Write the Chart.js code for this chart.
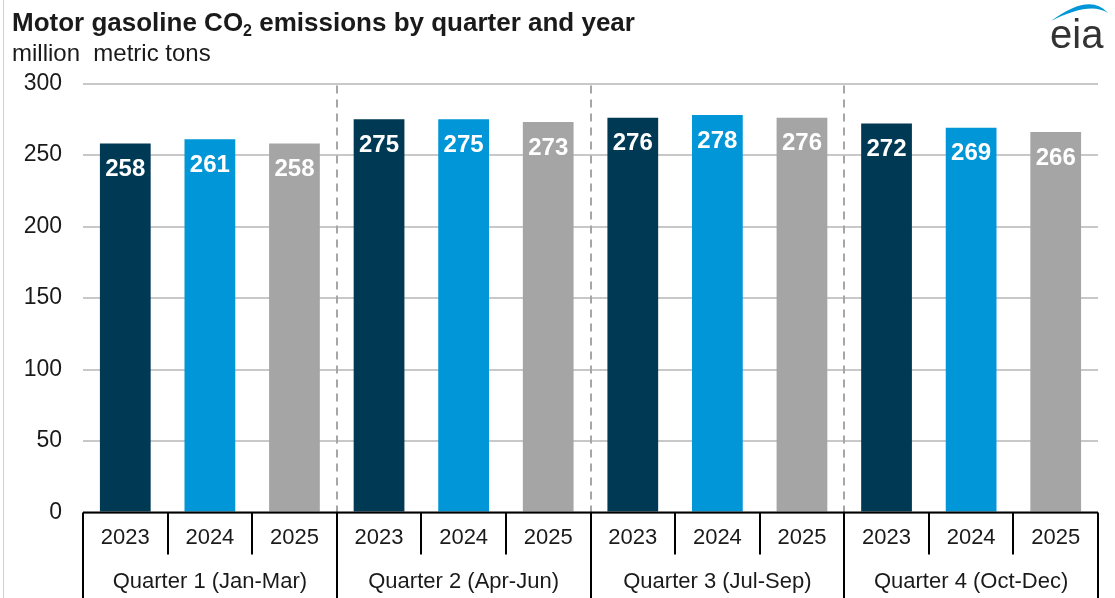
<!DOCTYPE html>
<html>
<head>
<meta charset="utf-8">
<title>Motor gasoline CO2 emissions by quarter and year</title>
<script src="https://cdn.jsdelivr.net/npm/chart.js@4"></script>
<style>
  html, body { margin: 0; padding: 0; background: #ffffff; }
  #wrap { width: 1115px; height: 598px; }
</style>
</head>
<body>
<div id="wrap"><canvas id="chart" width="1115" height="598"></canvas></div>
<script>
// Quarterly motor gasoline CO2 emissions, million metric tons
const quarters = ['Quarter 1 (Jan-Mar)', 'Quarter 2 (Apr-Jun)', 'Quarter 3 (Jul-Sep)', 'Quarter 4 (Oct-Dec)'];
const years = ['2023', '2024', '2025'];
const emissions = [258, 261, 258, 275, 275, 273, 276, 278, 276, 272, 269, 266];
const yearColors = ['#003953', '#0096d7', '#a5a5a5'];
const yTicks = [0, 50, 100, 150, 200, 250, 300];

const FONT = '"Liberation Sans", Arial, Helvetica, sans-serif';

// one category per quarter/year pair
const xLabels = [];
const barColors = [];
quarters.forEach(() => {
  years.forEach((y, i) => {
    xLabels.push(y);
    barColors.push(yearColors[i]);
  });
});

// title, subtitle, logo, page frame
const headerPlugin = {
  id: 'header',
  beforeDraw(chart) {
    const ctx = chart.ctx;
    ctx.save();
    ctx.fillStyle = '#ffffff';
    ctx.fillRect(0, 0, chart.width, chart.height);
    ctx.strokeStyle = '#d0d0d0';
    ctx.lineWidth = 1;
    ctx.beginPath();
    ctx.moveTo(3.5, 0);
    ctx.lineTo(3.5, chart.height);
    ctx.stroke();

    ctx.fillStyle = '#1a1a1a';
    ctx.textBaseline = 'alphabetic';
    ctx.textAlign = 'left';
    let x = 12;
    const base = 31;
    ctx.font = 'bold 26px ' + FONT;
    const t1 = 'Motor gasoline CO';
    ctx.fillText(t1, x, base);
    x += ctx.measureText(t1).width;
    ctx.font = 'bold 16px ' + FONT;
    ctx.fillText('2', x, base + 5);
    x += ctx.measureText('2').width;
    ctx.font = 'bold 26px ' + FONT;
    ctx.fillText(' emissions by quarter and year', x, base);

    ctx.font = '24px ' + FONT;
    ctx.fillText('million  metric tons', 12, 61);

    // eia mark
    ctx.fillStyle = '#0096d7';
    ctx.beginPath();
    ctx.moveTo(1051, 21);
    ctx.quadraticCurveTo(1090, -8, 1108, 13);
    ctx.quadraticCurveTo(1090, 1, 1051, 21);
    ctx.fill();
    ctx.fillStyle = '#333333';
    ctx.font = '40px ' + FONT;
    ctx.fillText('eia', 1050, 48);
    ctx.restore();
  }
};

// quarter separators (dashed), two-level category frame, quarter names, value labels
const framePlugin = {
  id: 'frame',
  afterDatasetsDraw(chart) {
    const ctx = chart.ctx;
    const area = chart.chartArea;
    const xs = chart.scales.x;
    const n = xLabels.length;
    const slot = (xs.getPixelForValue(1) - xs.getPixelForValue(0));
    const edge = i => xs.getPixelForValue(i) - slot / 2;

    ctx.save();
    // value labels inside the bars
    const meta = chart.getDatasetMeta(0);
    ctx.font = 'bold 24px ' + FONT;
    ctx.fillStyle = '#ffffff';
    ctx.textAlign = 'center';
    ctx.textBaseline = 'middle';
    meta.data.forEach((bar, i) => {
      ctx.fillText(String(emissions[i]), bar.x, bar.y + 26);
    });

    // dashed quarter separators in the plot
    ctx.strokeStyle = '#a6a6a6';
    ctx.lineWidth = 2;
    ctx.setLineDash([8, 6]);
    for (let q = 1; q < quarters.length; q++) {
      const px = Math.round(edge(q * years.length));
      ctx.beginPath();
      ctx.moveTo(px, area.top + 2);
      ctx.lineTo(px, area.bottom);
      ctx.stroke();
    }
    ctx.setLineDash([]);

    // category frame below the plot
    ctx.strokeStyle = '#000000';
    ctx.lineWidth = 2;
    ctx.beginPath();
    ctx.moveTo(area.left, area.bottom);
    ctx.lineTo(area.right, area.bottom);
    for (let i = 0; i <= n; i++) {
      const px = Math.round(edge(i));
      const full = i % years.length === 0;
      ctx.moveTo(px, area.bottom);
      ctx.lineTo(px, full ? chart.height : area.bottom + 42);
    }
    ctx.stroke();

    ctx.fillStyle = '#1a1a1a';
    ctx.font = '22px ' + FONT;
    quarters.forEach((q, k) => {
      const cx = (edge(k * years.length) + edge((k + 1) * years.length)) / 2;
      ctx.fillText(q, cx, area.bottom + 69);
    });
    ctx.restore();
  }
};

new Chart(document.getElementById('chart'), {
  type: 'bar',
  data: {
    labels: xLabels,
    datasets: [{
      data: emissions,
      backgroundColor: barColors,
      borderWidth: 0,
      barPercentage: 0.6,
      categoryPercentage: 1.0
    }]
  },
  options: {
    responsive: false,
    animation: false,
    devicePixelRatio: 1,
    layout: { padding: { left: 0, right: 17, top: 83.5, bottom: 0 } },
    plugins: {
      legend: { display: false },
      tooltip: { enabled: false },
      title: { display: false }
    },
    scales: {
      x: {
        type: 'category',
        grid: { display: false, drawTicks: false },
        border: { display: false },
        ticks: {
          color: '#1a1a1a',
          font: { family: FONT, size: 22 },
          padding: 12,
          maxRotation: 0,
          autoSkip: false
        },
        afterFit(s) {
          s.height = 85.5;
          s.paddingLeft = 0;
          s.paddingRight = 0;
        }
      },
      y: {
        min: 0,
        max: 300,
        afterBuildTicks(s) {
          s.ticks = yTicks.map(v => ({ value: v }));
        },
        grid: { color: '#c8c8c8', lineWidth: 2, drawTicks: false },
        border: { display: false },
        ticks: {
          color: '#1a1a1a',
          font: { family: FONT, size: 23 },
          padding: 21
        },
        afterFit(s) {
          s.width = 83;
          s.paddingTop = 0;
          s.paddingBottom = 0;
        }
      }
    }
  },
  plugins: [headerPlugin, framePlugin]
});
</script>
</body>
</html>
